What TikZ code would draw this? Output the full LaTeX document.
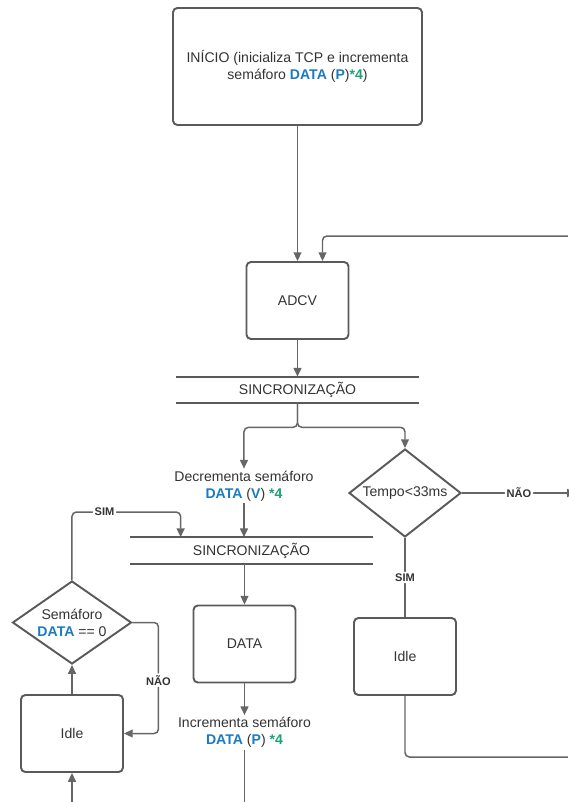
\documentclass[tikz,border=0pt]{standalone}
\usepackage{fontspec}
\setmainfont{Liberation Sans}
\usepackage{tikz}
\usetikzlibrary{shapes.geometric, arrows.meta}
\definecolor{textgray}{HTML}{333333}
\definecolor{boxgray}{HTML}{5A5A5A}
\definecolor{linegray}{HTML}{666666}
\definecolor{datablue}{HTML}{1B7BC2}
\definecolor{countgreen}{HTML}{1CA078}
\newcommand{\dt}{\textcolor{datablue}{\textbf{DATA}}}
\newcommand{\op}[1]{\textcolor{datablue}{\textbf{#1}}}
\newcommand{\vezes}{\textcolor{countgreen}{\textbf{*4}}}
\tikzstyle{startstop} = [rectangle, rounded corners=2.5pt, minimum width=4.98cm, minimum height=2.34cm, align=center, draw=boxgray, line width=1.1pt]
\tikzstyle{process} = [rectangle, rounded corners=2.5pt, minimum width=2.04cm, minimum height=1.54cm, align=center, draw=boxgray, line width=1.1pt]
\tikzstyle{decision} = [diamond, inner sep=0pt, align=center, draw=boxgray, line width=1.1pt]
\tikzstyle{sync} = [rectangle, minimum width=4.86cm, minimum height=0.52cm, inner sep=0pt]
\tikzstyle{bar} = [draw=boxgray, line width=1.1pt]
\tikzstyle{note} = [align=center, inner sep=1pt]
\tikzstyle{answer} = [fill=white, font=\bfseries\fontsize{6.3}{7}\selectfont, inner sep=1pt]
\tikzstyle{arrow} = [line width=0.85pt, draw=linegray, -{Triangle[length=5pt,width=4.5pt]}, rounded corners=2.5pt]
\tikzstyle{link} = [line width=0.85pt, draw=linegray, rounded corners=2.5pt]
\begin{document}
\begin{tikzpicture}[node distance=2cm, text=textgray, font=\fontsize{8}{9.8}\selectfont]

\useasboundingbox (-5.95,1.33) rectangle (5.41,-14.71);

\node (inicio) [startstop] {IN\'ICIO (inicializa TCP e incrementa\\sem\'aforo \dt{} (\op{P})\vezes)};

\node (adcv) [process, below of=inicio, yshift=-2.68cm] {ADCV};

\draw[arrow] (inicio) -- (adcv);

\node (sync1) [sync, below of=adcv, yshift=0.21cm] {SINCRONIZA\c{C}\~AO};

\draw[bar] (sync1.north west) -- (sync1.north east);
\draw[bar] (sync1.south west) -- (sync1.south east);

\draw[arrow] (adcv) -- (sync1.north);

\coordinate (exit) at (5.41,0);
\coordinate (back) at (5.41,-3.39);
\coordinate (floor) at (0,-14.71);

\draw[arrow] (back) -| ([xshift=0.5cm]adcv.north);

\node (dec) [note, below of=sync1, xshift=-1.07cm, yshift=0.08cm] {Decrementa sem\'aforo\\\dt{} (\op{V}) \vezes};

\node (tempo) [decision, below of=sync1, xshift=2.15cm, yshift=-0.06cm, aspect=1.27, minimum width=2.24cm, minimum height=1.76cm] {Tempo<33ms};

\draw[arrow] (sync1.south) -- ++(0,-0.48) -| (dec.north);
\draw[arrow] (sync1.south) -- ++(0,-0.48) -| (tempo.north);

\node (sync2) [sync, below of=dec, xshift=0.15cm, yshift=0.71cm] {SINCRONIZA\c{C}\~AO};

\draw[bar] (sync2.north west) -- (sync2.north east);
\draw[bar] (sync2.south west) -- (sync2.south east);

\draw[arrow] (dec.south) -- (dec.south |- sync2.north);

\node (data) [process, below of=sync2, xshift=-0.14cm, yshift=0.13cm] {DATA};

\draw[arrow] (data.north |- sync2.south) -- (data.north);

\node (inc) [note, below of=data, yshift=0.23cm] {Incrementa sem\'aforo\\\dt{} (\op{P}) \vezes};

\draw[arrow] (data) -- (inc);

\draw[link] (inc.south) -- (inc.south |- floor);

\draw[arrow] (tempo.east) -- node[answer]{N\~AO} ([xshift=0.16cm]tempo.east -| exit);

\node (idleR) [process, below of=tempo, yshift=-1.27cm] {Idle};

\draw[link] (tempo.south) -- node[answer]{SIM} (idleR.north);

\draw[link] (idleR.south) |- (5.41,-13.81);

\node (sema) [decision, left of=data, xshift=-1.45cm, yshift=0.43cm, aspect=1.43, minimum width=2.38cm, minimum height=1.66cm] {Sem\'aforo\\\dt{} == 0};

\draw[arrow] (sema.north) -- ++(0,1.36) -| node[answer, pos=0.15]{SIM} ([xshift=1.02cm]sync2.north west);

\node (idleL) [process, below of=sema, yshift=-0.22cm] {Idle};

\draw[arrow] (sema.east) -- ++(0.52,0) |- node[answer, pos=0.26]{N\~AO} (idleL.east);

\draw[arrow] (idleL) -- (sema);

\draw[arrow] (idleL.south |- floor) -- (idleL.south);

\end{tikzpicture}
\end{document}
